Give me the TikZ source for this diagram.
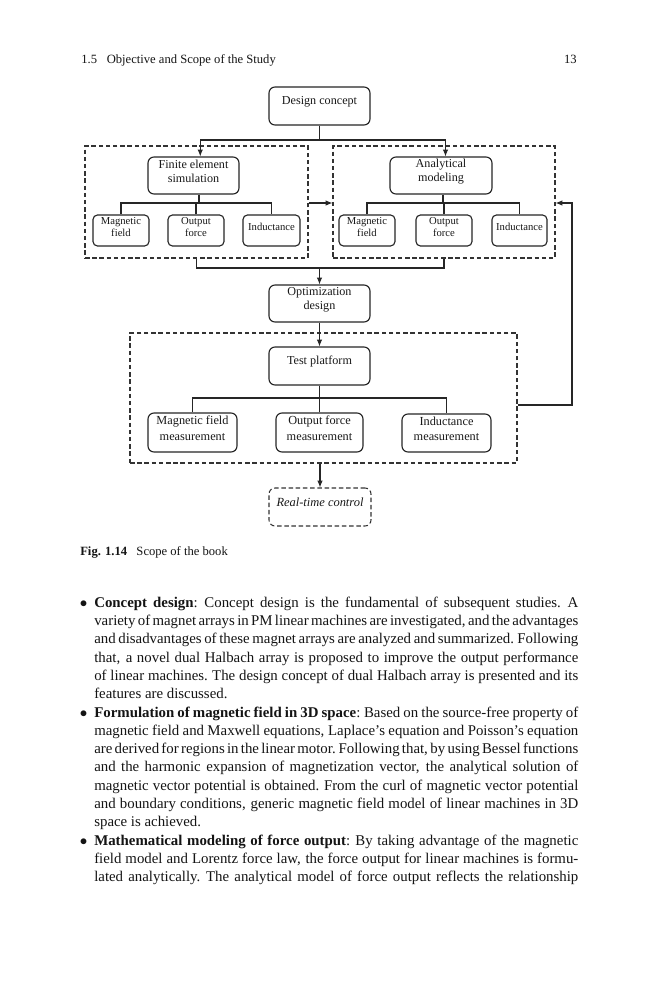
\documentclass[tikz,border=0pt]{standalone}
\usepackage{fontspec}
\setmainfont{Liberation Serif}
\usetikzlibrary{fit,arrows.meta}
\newlength\bw \setlength\bw{322.7pt}
\newcommand\jl[1]{\makebox[\bw][s]{\spaceskip=0.8pt plus 30pt\xspaceskip=1.2pt plus 30pt\relax #1}\\}
\newcommand\bul{\llap{$\bullet$\hspace{4.6pt}}}
\tikzset{
  bx/.style={draw=black!85, line width=0.75pt, rounded corners=4pt, inner sep=0pt, align=center, font=\fontsize{8.1}{9.3}\selectfont, text=black!90},
  sbx/.style={bx, rounded corners=3pt, font=\fontsize{7.1}{8.2}\selectfont},
  mbx/.style={bx, font=\fontsize{8.2}{10.2}\selectfont},
  dbox/.style={draw=black!80, line width=0.7pt, dash pattern=on 3pt off 1.8pt, inner sep=0pt},
  rbx/.style={dbox, rounded corners=4pt, align=center, font=\fontsize{8.3}{9.5}\selectfont\itshape, text=black!90},
  ln/.style={draw=black!85, line width=0.7pt},
  arr/.style={ln, -{Latex[length=4.5pt,width=3.6pt]}},
  plain/.style={inner sep=0pt, text=black!92}
}
\begin{document}
\begin{tikzpicture}[x=0.6667pt,y=-0.6667pt]
\useasboundingbox (0,0) rectangle (659,1000);
\fill[white] (0,0) rectangle (659,1000);

% running head
\node[plain, anchor=base west] (hd) at (81,64) {\fontsize{8.4}{10}\selectfont 1.5\hspace{6.5pt}Objective and Scope of the Study};
\node[plain, anchor=base east] (pg) at (577,64) {\fontsize{8.4}{10}\selectfont 13};

% dashed groups
\node[dbox, fit={(85,146)(308,258)}] (ldash) {};
\node[dbox, fit={(333,146)(555,258)}] (rdash) {};
\node[dbox, fit={(130,333)(517,463)}] (tdash) {};

% boxes
\node[bx, fit={(269,87)(370,125)}] (dc) {Design concept};
\node[bx, fit={(148,157)(239,194)}] (fe) {Finite element\\simulation};
\node[bx, fit={(390,157)(492,194)}] (am) {Analytical\\modeling};
\node[sbx, fit={(93,215)(149,246)}] (lmf) {Magnetic\\field};
\node[sbx, fit={(168,215)(224,246)}] (lof) {Output\\force};
\node[sbx, fit={(243,215)(300,246)}] (lind) {Inductance};
\node[sbx, fit={(339,215)(395,246)}] (rmf) {Magnetic\\field};
\node[sbx, fit={(416,215)(472,246)}] (rof) {Output\\force};
\node[sbx, fit={(492,215)(547,246)}] (rind) {Inductance};
\node[bx, fit={(269,285)(370,322)}] (opt) {Optimization\\design};
\node[bx, fit={(269,347)(370,385)}] (tp) {Test platform};
\node[mbx, fit={(148,413)(237,452)}] (mfm) {Magnetic field\\measurement};
\node[mbx, fit={(276,413)(363,452)}] (ofm) {Output force\\measurement};
\node[mbx, fit={(402,414)(491,452)}] (im) {Inductance\\measurement};
\node[rbx, fit={(269,488)(371,526)}] (rt) {Real-time control};

% junctions
\coordinate (j0) at (319.5,140);
\coordinate (jl) at (199,203);
\coordinate (jr) at (443,203);
\coordinate (jm) at (319.5,268);
\coordinate (jt) at (319.5,398);
\coordinate (fb) at (572,405);

% connectors
\draw[ln] (dc.south) -- (j0);
\draw[arr] (j0) -| ([xshift=4.5pt]fe.north);
\draw[arr] (j0) -| ([xshift=3pt]am.north);

\draw[ln] (jl |- fe.south) -- (jl);
\draw[ln] (lmf.north) |- (jl) -| (lind.north);
\draw[ln] (lof.north) -- (lof.north |- jl);

\draw[ln] (jr |- am.south) -- (jr);
\draw[ln] (rmf.north) |- (jr) -| (rind.north);
\draw[ln] (rof.north) -- (rof.north |- jr);

\draw[arr] (ldash.east |- jl) -- (rdash.west |- jl);

\draw[ln] (ldash.south) |- (jm) -| (rdash.south);
\draw[arr] (jm) -- (opt.north);
\draw[arr] (opt.south) -- (tp.north);

\draw[ln] (tp.south) -- (jt);
\draw[ln] (mfm.north) |- (jt) -| (im.north);
\draw[ln] (ofm.north) -- (ofm.north |- jt);

\draw[arr] (tdash.south -| rt.north) -- (rt.north);
\draw[arr] (tdash.east |- fb) -- (fb) |- (rdash.east |- jr);

% caption
\node[plain, anchor=base west] (cap) at (80,555) {\fontsize{8.4}{10}\selectfont\textbf{Fig. 1.14}\hspace{6.2pt}Scope of the book};

% body text
\node[plain, anchor=base west] (body) at (94,607.3) {\begin{minipage}[t]{\bw}\fontsize{9.9}{12.2}\selectfont\setlength\parindent{0pt}%
\jl{\bul\textbf{Concept design}: Concept design is the fundamental of subsequent studies. A}
\jl{variety of magnet arrays in PM linear machines are investigated, and the advantages}
\jl{and disadvantages of these magnet arrays are analyzed and summarized. Following}
\jl{that, a novel dual Halbach array is proposed to improve the output performance}
\jl{of linear machines. The design concept of dual Halbach array is presented and its}
features are discussed.\\
\jl{\bul\textbf{Formulation of magnetic field in 3D space}: Based on the source-free property of}
\jl{magnetic field and Maxwell equations, Laplace’s equation and Poisson’s equation}
\jl{are derived for regions in the linear motor. Following that, by using Bessel functions}
\jl{and the harmonic expansion of magnetization vector, the analytical solution of}
\jl{magnetic vector potential is obtained. From the curl of magnetic vector potential}
\jl{and boundary conditions, generic magnetic field model of linear machines in 3D}
space is achieved.\\
\jl{\bul\textbf{Mathematical modeling of force output}: By taking advantage of the magnetic}
\jl{field model and Lorentz force law, the force output for linear machines is formu-}
\makebox[\bw][s]{\spaceskip=0.8pt plus 30pt\xspaceskip=1.2pt plus 30pt\relax lated analytically. The analytical model of force output reflects the relationship}%
\end{minipage}};
\end{tikzpicture}
\end{document}
